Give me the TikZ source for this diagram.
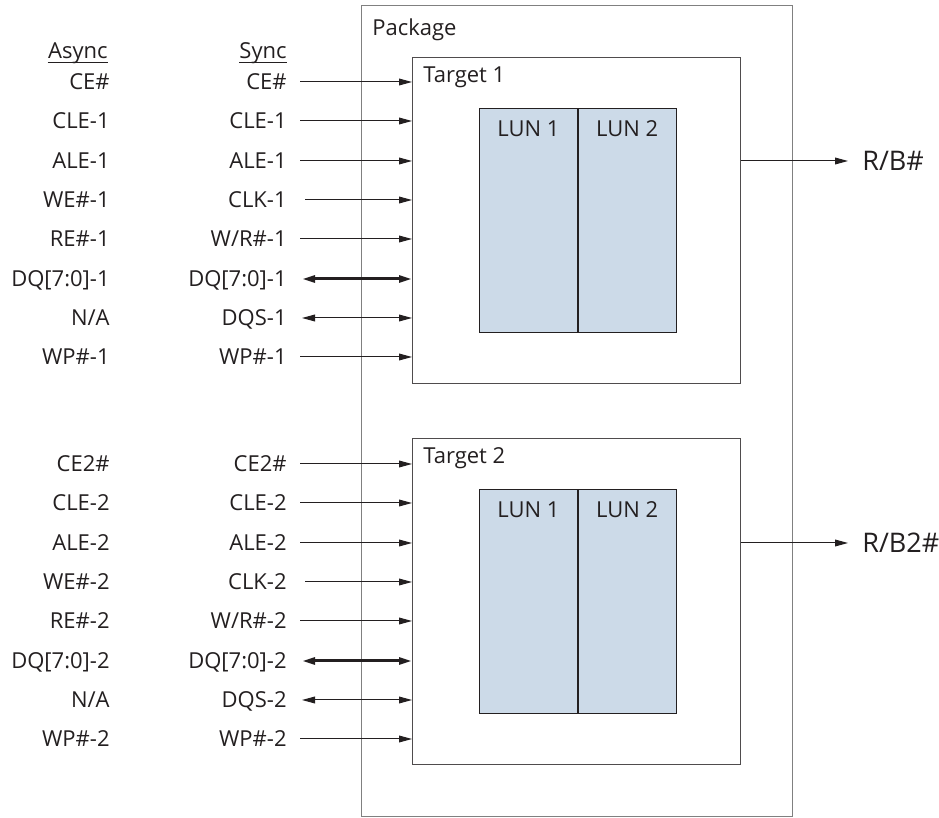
\documentclass[tikz,border=0pt]{standalone}
\usepackage{fontspec}
\setmainfont{Open Sans}
\usetikzlibrary{positioning, arrows.meta}
\definecolor{ink}{RGB}{35,31,32}
\definecolor{lunblue}{RGB}{204,218,232}
\tikzset{>={Triangle[length=6.5pt,width=3.4pt]}, % arrow heads
x=0.5pt, y=-0.5pt, % one unit is one pixel of the original drawing
every node/.style={font=\fontsize{11}{13}\selectfont, text=ink},
pin/.style={inner sep=0pt, text height=7.8pt, text depth=0pt, anchor=east}, % signal names
box/.style={draw, anchor=north west, inner sep=0pt},
pkgbox/.style={box, draw=gray, line width=0.6pt, minimum width=215.5pt, minimum height=405.5pt},
tgtbox/.style={box, draw=ink!80, line width=0.6pt, minimum width=164pt, minimum height=163pt},
lunbox/.style={box, draw=ink, fill=lunblue, line width=0.4pt, minimum width=49pt, minimum height=112pt},
title/.style={inner sep=0pt, anchor=base west},
rule/.style={draw=ink, line width=0.6pt}, % underline of column heads
sig/.style={->, draw=ink, line width=0.5pt},
bus/.style={<->, draw=ink, line width=1.5pt},
}

\begin{document}
\begin{tikzpicture}
\useasboundingbox (0,0) rectangle (939,818);

% boxes
\node[pkgbox] (pkg) at (361,5) {};
\node[title] (pkgname) at (372,36) {Package};

\node[tgtbox] (t1) at (412,57) {};
\node[title] (t1name) at (423,83) {Target 1};
\node[lunbox] (l1a) at (479,108) {};
\node[lunbox, right=0pt of l1a] (l1b) {};
\node[anchor=base, inner sep=0pt] (l1aname) at ([yshift=-14.5pt]l1a.north) {LUN 1};
\node[anchor=base, inner sep=0pt] (l1bname) at ([yshift=-14.5pt]l1b.north) {LUN 2};

\node[tgtbox] (t2) at (412,438) {};
\node[title] (t2name) at (423,464) {Target 2};
\node[lunbox] (l2a) at (479,489) {};
\node[lunbox, right=0pt of l2a] (l2b) {};
\node[anchor=base, inner sep=0pt] (l2aname) at ([yshift=-14.5pt]l2a.north) {LUN 1};
\node[anchor=base, inner sep=0pt] (l2bname) at ([yshift=-14.5pt]l2b.north) {LUN 2};

% column heads
\node[pin] (async) at (108,51) {Async};
\node[pin] (sync) at (287,51) {Sync};
\draw[rule] ([yshift=-1.5pt]async.south west) -- ([yshift=-1.5pt]async.south east);
\draw[rule] ([yshift=-1.5pt]sync.south west) -- ([yshift=-1.5pt]sync.south east);

% target 1 signals
\node[pin] (a1) at (110,82) {CE\#};
\node[pin] (a2) at (110,121) {CLE-1};
\node[pin] (a3) at (110,161) {ALE-1};
\node[pin] (a4) at (110,200) {WE\#-1};
\node[pin] (a5) at (110,239) {RE\#-1};
\node[pin] (a6) at (110,279) {DQ[7:0]-1};
\node[pin] (a7) at (110,318) {N/A};
\node[pin] (a8) at (110,357) {WP\#-1};

\node[pin] (s1) at (287,82) {CE\#};
\node[pin] (s2) at (287,121) {CLE-1};
\node[pin] (s3) at (287,161) {ALE-1};
\node[pin] (s4) at (287,200) {CLK-1};
\node[pin] (s5) at (287,239) {W/R\#-1};
\node[pin] (s6) at (287,279) {DQ[7:0]-1};
\node[pin] (s7) at (287,318) {DQS-1};
\node[pin] (s8) at (287,357) {WP\#-1};

% target 2 signals
\node[pin] (b1) at (110,464) {CE2\#};
\node[pin] (b2) at (110,503) {CLE-2};
\node[pin] (b3) at (110,543) {ALE-2};
\node[pin] (b4) at (110,582) {WE\#-2};
\node[pin] (b5) at (110,621) {RE\#-2};
\node[pin] (b6) at (110,661) {DQ[7:0]-2};
\node[pin] (b7) at (110,700) {N/A};
\node[pin] (b8) at (110,739) {WP\#-2};

\node[pin] (r1) at (287,464) {CE2\#};
\node[pin] (r2) at (287,503) {CLE-2};
\node[pin] (r3) at (287,543) {ALE-2};
\node[pin] (r4) at (287,582) {CLK-2};
\node[pin] (r5) at (287,621) {W/R\#-2};
\node[pin] (r6) at (287,661) {DQ[7:0]-2};
\node[pin] (r7) at (287,700) {DQS-2};
\node[pin] (r8) at (287,739) {WP\#-2};

% ready/busy outputs
\node[pin, anchor=west, font=\fontsize{13.5}{15}\selectfont, text height=9.6pt] (rb1) at (862,161) {R/B\#};
\node[pin, anchor=west, font=\fontsize{13.5}{15}\selectfont, text height=9.6pt] (rb2) at (862,543) {R/B2\#};

\draw[sig] ([xshift=6.5pt]s1.east) -- (s1 -| t1.west);
\draw[sig] ([xshift=6.5pt]s2.east) -- (s2 -| t1.west);
\draw[sig] ([xshift=6.5pt]s3.east) -- (s3 -| t1.west);
\draw[sig] ([xshift=9pt]s4.east) -- (s4 -| t1.west);
\draw[sig] ([xshift=6.5pt]s5.east) -- (s5 -| t1.west);
\draw[bus] ([xshift=7.5pt]s6.east) -- (s6 -| t1.west);
\draw[sig, <->] ([xshift=7.5pt]s7.east) -- (s7 -| t1.west);
\draw[sig] ([xshift=6.5pt]s8.east) -- (s8 -| t1.west);

\draw[sig] ([xshift=6.5pt]r1.east) -- (r1 -| t2.west);
\draw[sig] ([xshift=6.5pt]r2.east) -- (r2 -| t2.west);
\draw[sig] ([xshift=6.5pt]r3.east) -- (r3 -| t2.west);
\draw[sig] ([xshift=9pt]r4.east) -- (r4 -| t2.west);
\draw[sig] ([xshift=6.5pt]r5.east) -- (r5 -| t2.west);
\draw[bus] ([xshift=7.5pt]r6.east) -- (r6 -| t2.west);
\draw[sig, <->] ([xshift=7.5pt]r7.east) -- (r7 -| t2.west);
\draw[sig] ([xshift=6.5pt]r8.east) -- (r8 -| t2.west);

\draw[sig] (rb1 -| t1.east) -- ([xshift=-7pt]rb1.west);
\draw[sig] (rb2 -| t2.east) -- ([xshift=-7pt]rb2.west);

\end{tikzpicture}
\end{document}
